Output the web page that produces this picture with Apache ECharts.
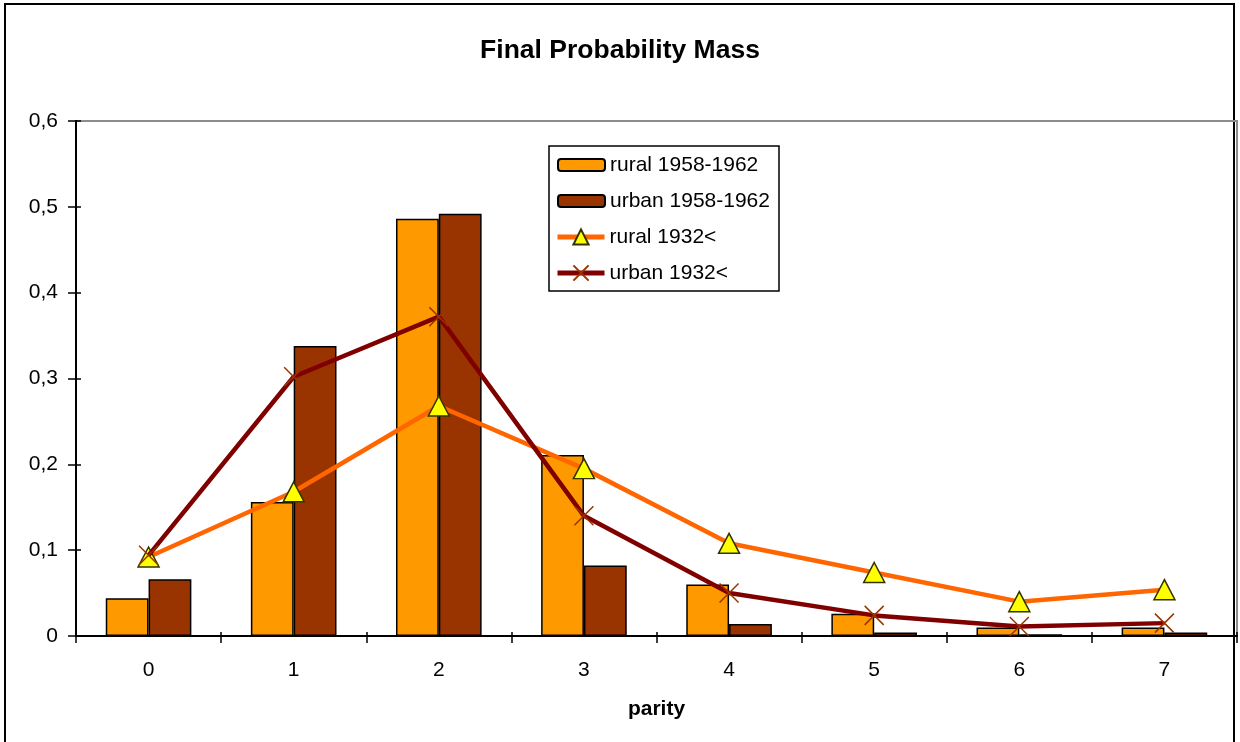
<!DOCTYPE html>
<html>
<head>
<meta charset="utf-8">
<title>Final Probability Mass</title>
<script src="https://cdn.jsdelivr.net/npm/echarts@6/dist/echarts.min.js"></script>
<style>
  html, body { margin: 0; padding: 0; background: #ffffff; }
  #chart { width: 1240px; height: 742px; }
</style>
</head>
<body>
<div id="chart"></div>
<script>
// Parity categories and tick values
const parity = ['0', '1', '2', '3', '4', '5', '6', '7'];
const yTicks = [0, 0.1, 0.2, 0.3, 0.4, 0.5, 0.6];

// Final probability mass by parity
const rural1958_1962 = [0.044, 0.156, 0.486, 0.211, 0.060, 0.026, 0.010, 0.010];
const urban1958_1962 = [0.066, 0.338, 0.492, 0.082, 0.014, 0.004, 0.002, 0.004];
const rural1932 = [0.092, 0.168, 0.268, 0.195, 0.108, 0.074, 0.040, 0.054];
const urban1932 = [0.094, 0.302, 0.372, 0.140, 0.050, 0.024, 0.011, 0.015];

const FONT = '"Liberation Sans", Arial, sans-serif';
const CROSS = 'path://M0,0L10,10M10,0L0,10';

const chart = echarts.init(document.getElementById('chart'), null, { renderer: 'canvas' });

const fmt = v => (v === 0 ? '0' : v.toFixed(1).replace('.', ','));

const legendText = { fontFamily: FONT, fontSize: 21, color: '#000', lineHeight: 22 };

chart.setOption({
  animation: false,
  backgroundColor: '#ffffff',
  textStyle: { fontFamily: FONT },
  title: {
    text: 'Final Probability Mass',
    left: 'center',
    top: 32,
    textStyle: { fontFamily: FONT, fontSize: 26.5, fontWeight: 'bold', color: '#000' }
  },
  graphic: [{
    // outer chart frame
    type: 'rect',
    shape: { x: 5, y: 4, width: 1229, height: 800 },
    style: { fill: 'none', stroke: '#000', lineWidth: 2 },
    silent: true,
    z: -10
  }, {
    // legend box
    type: 'rect',
    shape: { x: 549, y: 146, width: 230, height: 145 },
    style: { fill: '#ffffff', stroke: '#000', lineWidth: 1.5 },
    silent: true,
    z: 5
  }],
  legend: [{
    orient: 'vertical',
    left: 557,
    top: 154,
    padding: 0,
    itemWidth: 47,
    itemHeight: 12,
    itemGap: 14,
    z: 6,
    textStyle: legendText,
    data: ['rural 1958-1962', 'urban 1958-1962']
  }, {
    orient: 'vertical',
    left: 555,
    top: 226,
    padding: 0,
    itemWidth: 47,
    itemHeight: 19,
    itemGap: 14,
    z: 6,
    lineStyle: { width: 5 },
    textStyle: legendText,
    data: ['rural 1932<', 'urban 1932<']
  }],
  grid: {
    left: 76, right: 3, top: 121, bottom: 106,
    show: true, borderColor: '#8c8c8c', borderWidth: 2, backgroundColor: 'transparent'
  },
  xAxis: [{
    type: 'category',
    data: parity,
    boundaryGap: true,
    name: 'parity',
    nameLocation: 'middle',
    nameGap: 63,
    nameTextStyle: { fontFamily: FONT, fontSize: 21, fontWeight: 'bold', color: '#000' },
    axisLine: { lineStyle: { color: '#000', width: 2 } },
    axisTick: { show: true, inside: false, length: 7, lineStyle: { color: '#000', width: 1.5 } },
    axisLabel: { fontFamily: FONT, fontSize: 21, color: '#000', margin: 24 },
    splitLine: { show: false }
  }, {
    type: 'category',
    data: parity,
    position: 'bottom',
    boundaryGap: true,
    axisLine: { show: false },
    axisTick: { show: true, inside: true, length: 4, lineStyle: { color: '#000', width: 1.5 } },
    axisLabel: { show: false },
    splitLine: { show: false }
  }],
  yAxis: [{
    type: 'value',
    min: 0, max: 0.6, interval: 0.1,
    axisLine: { show: true, lineStyle: { color: '#000', width: 2 } },
    axisTick: { show: true, inside: false, length: 8, lineStyle: { color: '#000', width: 1.5 } },
    axisLabel: {
      fontFamily: FONT, fontSize: 21, color: '#000', margin: 18,
      formatter: v => fmt(yTicks.find(t => Math.abs(t - v) < 1e-9) ?? v)
    },
    splitLine: { show: false }
  }, {
    type: 'value',
    position: 'left',
    min: 0, max: 0.6, interval: 0.1,
    axisLine: { show: false },
    axisTick: { show: true, inside: true, length: 5, lineStyle: { color: '#000', width: 1.5 } },
    axisLabel: { show: false },
    splitLine: { show: false }
  }],
  series: [{
    name: 'rural 1958-1962',
    type: 'bar',
    data: rural1958_1962,
    barGap: '0%',
    barCategoryGap: '41%',
    itemStyle: { color: '#ff9900', borderColor: '#000', borderWidth: 1.5 },
    z: 2
  }, {
    name: 'urban 1958-1962',
    type: 'bar',
    data: urban1958_1962,
    itemStyle: { color: '#993300', borderColor: '#000', borderWidth: 1.5 },
    z: 2
  }, {
    name: 'rural 1932<',
    type: 'line',
    data: rural1932,
    symbol: 'triangle',
    symbolSize: [21, 20],
    showSymbol: true,
    lineStyle: { color: '#ff6600', width: 4.5 },
    itemStyle: { color: '#ffff00', borderColor: '#333300', borderWidth: 1.5 },
    z: 3
  }, {
    name: 'urban 1932<',
    type: 'line',
    data: urban1932,
    symbol: CROSS,
    symbolSize: 19,
    showSymbol: true,
    lineStyle: { color: '#800000', width: 4.5 },
    itemStyle: { color: '#993300', borderColor: '#993300', borderWidth: 1.5 },
    z: 4
  }]
});
</script>
</body>
</html>
